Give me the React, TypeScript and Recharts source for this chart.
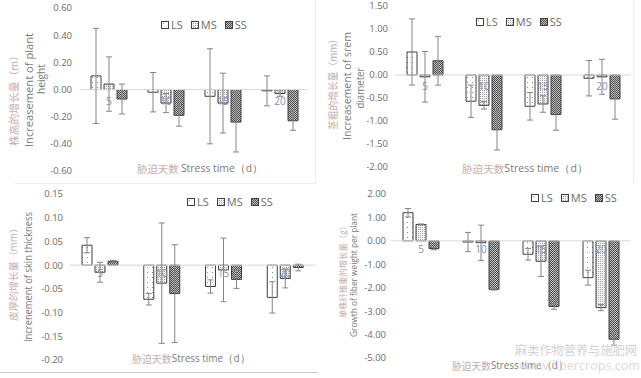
import { BarChart, Bar, XAxis, YAxis, ReferenceLine, ErrorBar, LabelList } from "recharts";

const categories = ["5", "10", "15", "20"];

// 株高的增长量 (m)
const heightLS = [0.1, -0.02, -0.05, -0.01];
const heightLSErr = [0.35, 0.145, 0.35, 0.11];
const heightMS = [0.04, -0.1, -0.1, -0.03];
const heightMSErr = [0.2, 0.07, 0.22, 0.02];
const heightSS = [-0.07, -0.19, -0.24, -0.23];
const heightSSErr = [0.11, 0.08, 0.22, 0.07];

// 茎粗的增长量 (mm)
const stemLS = [0.5, -0.57, -0.68, -0.07];
const stemLSErr = [0.72, 0.35, 0.3, 0.385];
const stemMS = [-0.04, -0.66, -0.63, -0.04];
const stemMSErr = [0.55, 0.08, 0.18, 0.38];
const stemSS = [0.31, -1.19, -0.86, -0.52];
const stemSSErr = [0.53, 0.44, 0.34, 0.44];

// 皮厚的增长量 (mm)
const skinLS = [0.042, -0.072, -0.045, -0.068];
const skinLSErr = [0.016, 0.012, 0.014, 0.033];
const skinMS = [-0.015, -0.038, -0.01, -0.028];
const skinMSErr = [0.021, 0.127, 0.067, 0.02];
const skinSS = [0.008, -0.06, -0.03, -0.005];
const skinSSErr = [0.002, 0.103, 0.019, 0.007];

// 单株纤维重的增长量 (g)
const fiberLS = [1.2, -0.05, -0.57, -1.57];
const fiberLSErr = [0.18, 0.41, 0.25, 0.32];
const fiberMS = [0.7, -0.08, -0.87, -2.85];
const fiberMSErr = [0.02, 0.75, 0.65, 0.13];
const fiberSS = [-0.33, -2.07, -2.8, -4.2];
const fiberSSErr = [0.05, 0.03, 0.12, 0.25];

const heightTicks = [0.6, 0.4, 0.2, 0, -0.2, -0.4, -0.6];
const stemTicks = [1.5, 1, 0.5, 0, -0.5, -1, -1.5, -2];
const skinTicks = [0.15, 0.1, 0.05, 0, -0.05, -0.1, -0.15, -0.2];
const fiberTicks = [2, 1, 0, -1, -2, -3, -4, -5];

const buildRows = (
  ls: number[], lsE: number[], ms: number[], msE: number[], ss: number[], ssE: number[]
) =>
  categories.map((cat, i) => ({
    cat,
    LS: ls[i], LSe: lsE[i],
    MS: ms[i], MSe: msE[i],
    SS: ss[i], SSe: ssE[i],
  }));

const FONT = "'Open Sans', 'DejaVu Sans', sans-serif";
const TICK_COLOR = "#6b6b6b";
const CN_COLOR = "#c4aeae";
const EN_COLOR = "#7a7a7a";

interface PanelProps {
  left: number;
  top: number;
  width: number;
  height: number;
  margin: { top: number; right: number; bottom: number; left: number };
  yWidth: number;
  tickMargin: number;
  domain: [number, number];
  ticks: number[];
  digits: number;
  catDy: number;
  rows: ReturnType<typeof buildRows>;
}

function Panel({ left, top, width, height, margin, yWidth, tickMargin, domain, ticks, digits, catDy, rows }: PanelProps) {
  const plotH = height - margin.top - margin.bottom;
  const zeroY = margin.top + (plotH * domain[1]) / (domain[1] - domain[0]);

  // category name drawn just under the zero line, centred on the middle (MS) bar
  const CatLabel = (props: any) => (
    <text
      x={props.x + props.width / 2}
      y={zeroY + catDy}
      textAnchor="middle"
      fontSize={10}
      fontFamily={FONT}
      fill="#7f8fb0"
    >
      {categories[props.index]}
    </text>
  );

  return (
    <div style={{ position: "absolute", left, top }}>
      <BarChart width={width} height={height} data={rows} margin={margin} barSize={10} barGap={3}>
        <XAxis dataKey="cat" hide />
        <YAxis
          type="number"
          domain={domain}
          ticks={ticks}
          width={yWidth}
          axisLine={false}
          tickLine={false}
          tickSize={0}
          tickMargin={tickMargin}
          interval={0}
          tick={{ fill: TICK_COLOR, fontSize: 9.5, fontFamily: FONT }}
          tickFormatter={(v: number) => v.toFixed(digits)}
        />
        <ReferenceLine y={0} stroke="#d9d9d9" strokeWidth={1} />
        <Bar dataKey="LS" fill="url(#patLS)" stroke="#404040" strokeWidth={1} isAnimationActive={false}>
          <ErrorBar dataKey="LSe" width={3} stroke="#858585" strokeWidth={1} direction="y" />
        </Bar>
        <Bar dataKey="MS" fill="url(#patMS)" stroke="#404040" strokeWidth={1} isAnimationActive={false}>
          <ErrorBar dataKey="MSe" width={3} stroke="#858585" strokeWidth={1} direction="y" />
          <LabelList dataKey="cat" content={<CatLabel />} />
        </Bar>
        <Bar dataKey="SS" fill="url(#patSS)" stroke="#404040" strokeWidth={1} isAnimationActive={false}>
          <ErrorBar dataKey="SSe" width={3} stroke="#858585" strokeWidth={1} direction="y" />
        </Bar>
      </BarChart>
    </div>
  );
}

function LegendBox({ left, top }: { left: number; top: number }) {
  const item = (label: string, pat: string) => (
    <span style={{ display: "inline-flex", alignItems: "center", marginRight: 8 }}>
      <svg width={8} height={8} style={{ marginRight: 2 }}>
        <rect x={0.5} y={0.5} width={7} height={7} fill={`url(#${pat})`} stroke="#404040" />
      </svg>
      {label}
    </span>
  );
  return (
    <div
      style={{
        position: "absolute", left, top, display: "flex", fontFamily: FONT,
        fontSize: 11, color: "#6b6b6b", lineHeight: "12px", whiteSpace: "nowrap",
      }}
    >
      {item("LS", "patLS")}
      {item("MS", "patMS")}
      {item("SS", "patSS")}
    </div>
  );
}

function YTitle({ x, y, lines, sizes, lengths }: { x: number[]; y: number[]; lines: string[]; sizes: number[]; lengths: number[] }) {
  return (
    <>
      {lines.map((t, i) => (
        <text
          key={i}
          transform={`translate(${x[i]},${y[i]}) rotate(-90)`}
          textAnchor="middle"
          dominantBaseline="central"
          fontSize={sizes[i]}
          fontFamily={i === 0 ? "'Noto Sans CJK SC', serif" : FONT}
          fill={i === 0 ? CN_COLOR : EN_COLOR}
          textLength={lengths[i]}
          lengthAdjust="spacingAndGlyphs"
        >
          {t}
        </text>
      ))}
    </>
  );
}

function XTitle({ x, y, cn, en, len }: { x: number; y: number; cn: string; en: string; len: number }) {
  return (
    <text x={x} y={y} fontSize={10.5} fontFamily={FONT} dominantBaseline="central" textLength={len} lengthAdjust="spacingAndGlyphs">
      <tspan fill={CN_COLOR} fontFamily="'Noto Sans CJK SC', serif">{cn}</tspan>
      <tspan fill={EN_COLOR}>{en}</tspan>
    </text>
  );
}

export default function App() {
  return (
    <div style={{ position: "absolute", left: 0, top: 0, width: 641, height: 378, background: "#fff", overflow: "hidden" }}>
      <svg width={0} height={0} style={{ position: "absolute" }}>
        <defs>
          <pattern id="patLS" patternUnits="userSpaceOnUse" width={5} height={5}>
            <rect width={5} height={5} fill="#ffffff" />
            <rect x={2} y={2} width={1} height={1} fill="#8a8a8a" />
          </pattern>
          <pattern id="patMS" patternUnits="userSpaceOnUse" width={2} height={2}>
            <rect width={2} height={2} fill="#f2f2f2" />
            <rect x={0} y={0} width={1} height={1} fill="#a6a6a6" />
          </pattern>
          <pattern id="patSS" patternUnits="userSpaceOnUse" width={2} height={2}>
            <rect width={2} height={2} fill="#bdbdbd" />
            <rect x={0} y={0} width={1} height={1} fill="#505050" />
            <rect x={1} y={1} width={1} height={1} fill="#505050" />
          </pattern>
        </defs>
      </svg>

      <Panel
        left={0} top={0} width={320} height={185}
        margin={{ top: 8, right: 12, bottom: 14, left: 0 }}
        yWidth={80} tickMargin={8}
        domain={[-0.6, 0.6]} ticks={heightTicks} digits={2} catDy={15}
        rows={buildRows(heightLS, heightLSErr, heightMS, heightMSErr, heightSS, heightSSErr)}
      />
      <Panel
        left={320} top={0} width={321} height={185}
        margin={{ top: 6, right: 10, bottom: 18, left: 0 }}
        yWidth={75} tickMargin={7}
        domain={[-2, 1.5]} ticks={stemTicks} digits={2} catDy={15}
        rows={buildRows(stemLS, stemLSErr, stemMS, stemMSErr, stemSS, stemSSErr)}
      />
      <Panel
        left={0} top={185} width={320} height={193}
        margin={{ top: 9, right: 4, bottom: 18, left: 0 }}
        yWidth={69} tickMargin={6}
        domain={[-0.2, 0.15]} ticks={skinTicks} digits={2} catDy={12}
        rows={buildRows(skinLS, skinLSErr, skinMS, skinMSErr, skinSS, skinSSErr)}
      />
      <Panel
        left={320} top={185} width={321} height={193}
        margin={{ top: 9, right: 10, bottom: 20, left: 0 }}
        yWidth={71} tickMargin={5}
        domain={[-5, 2]} ticks={fiberTicks} digits={2} catDy={12}
        rows={buildRows(fiberLS, fiberLSErr, fiberMS, fiberMSErr, fiberSS, fiberSSErr)}
      />

      <LegendBox left={161} top={19} />
      <LegendBox left={476} top={16} />
      <LegendBox left={187} top={196} />
      <LegendBox left={531} top={192} />

      <svg width={641} height={378} style={{ position: "absolute", left: 0, top: 0, pointerEvents: "none" }}>
        {/* panel frames */}
        <line x1={315.5} y1={0} x2={315.5} y2={183} stroke="#ececec" />
        <line x1={15} y1={183.5} x2={315} y2={183.5} stroke="#ececec" />
        <line x1={633.5} y1={0} x2={633.5} y2={183} stroke="#ececec" />
        <line x1={0} y1={372.5} x2={318} y2={372.5} stroke="#c8c8c8" />

        <YTitle
          x={[13, 29, 41]} y={[98, 90, 79]}
          lines={["株高的增长量（m）", "Increasement of plant", "height"]}
          sizes={[10, 10.5, 10.5]} lengths={[96, 114, 30]}
        />
        <YTitle
          x={[332, 347, 360]} y={[82, 86, 88]}
          lines={["茎粗的增长量（mm）", "Increasement of srem", "diameter"]}
          sizes={[10, 10.5, 10.5]} lengths={[96, 108, 41]}
        />
        <YTitle
          x={[13, 28]} y={[272, 277]}
          lines={["皮厚的增长量（mm）", "Increnement of skin thickness"]}
          sizes={[9.5, 10]} lengths={[98, 130]}
        />
        <YTitle
          x={[342, 353]} y={[270, 275]}
          lines={["单株纤维重的增长量（g）", "Growth of fiber weight per plant"]}
          sizes={[8.5, 9.5]} lengths={[96, 124]}
        />

        <XTitle x={137} y={168} cn="胁迫天数 " en="Stress time（d）" len={126} />
        <XTitle x={462} y={168} cn="胁迫天数" en="Stress time（d）" len={126} />
        <XTitle x={132} y={358} cn="胁迫天数" en="Stress time（d）" len={118} />
        <XTitle x={452} y={365} cn="胁迫天数" en="Stress time（d）" len={116} />

        {/* watermark */}
        <text x={515} y={355} fontSize={12.5} fontFamily="'Noto Sans CJK SC', sans-serif" fill="#d2d2d2" textLength={122} lengthAdjust="spacingAndGlyphs">
          麻类作物营养与施肥网
        </text>
        <text x={519} y={370} fontSize={12.5} fontFamily={FONT} fill="#d2d2d2" fillOpacity={0.85} textLength={121} lengthAdjust="spacingAndGlyphs">
          www.fibercrops.com
        </text>
      </svg>
    </div>
  );
}
